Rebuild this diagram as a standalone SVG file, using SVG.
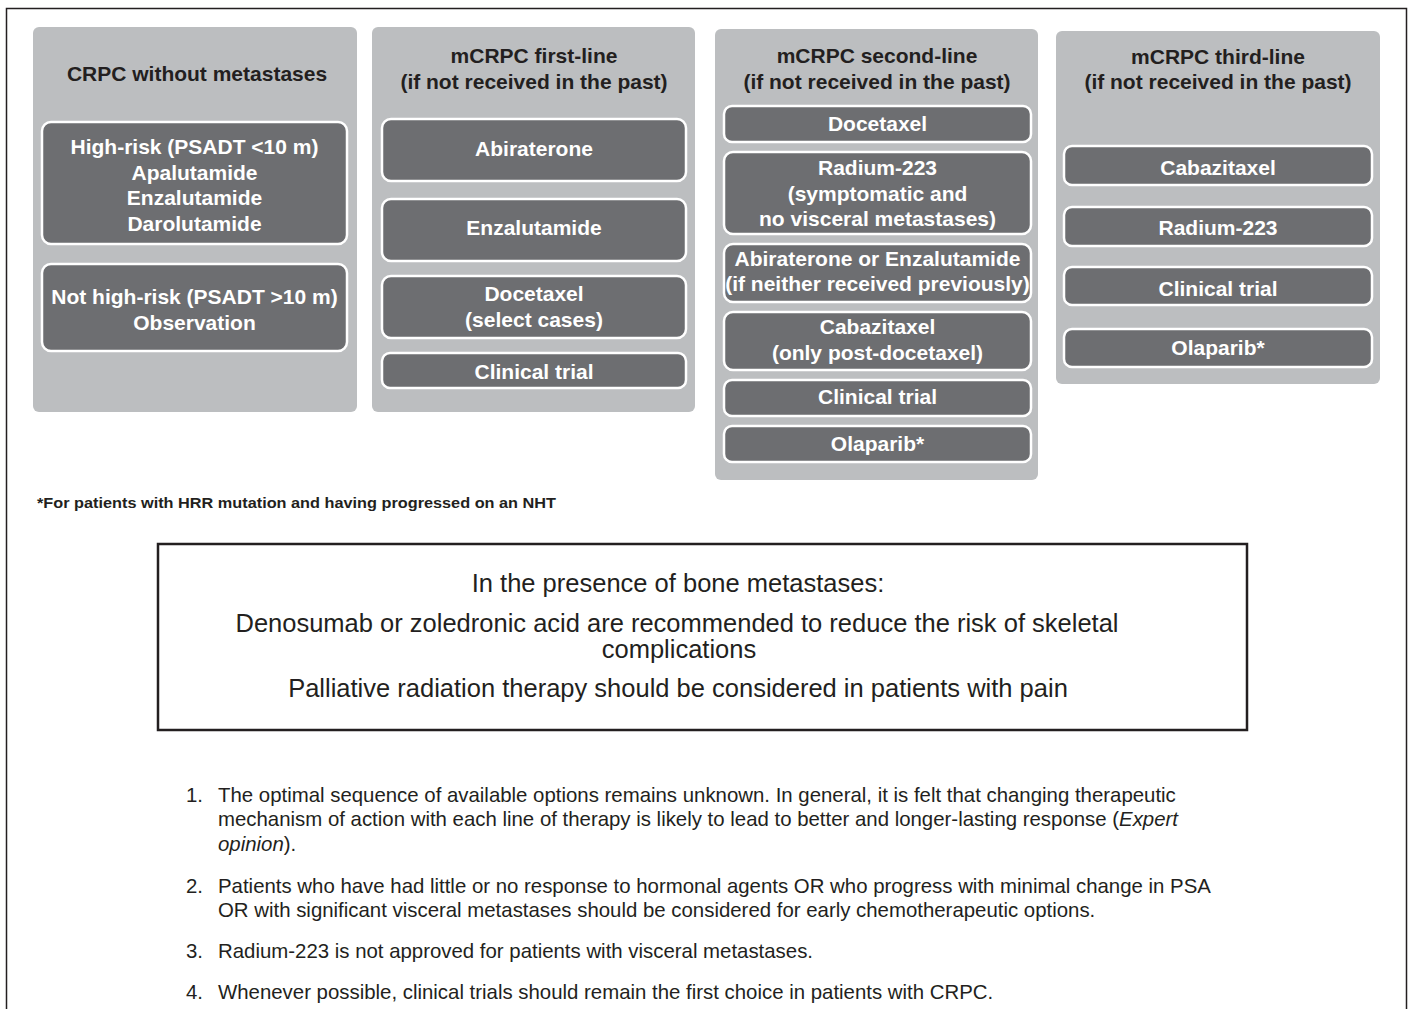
<svg xmlns="http://www.w3.org/2000/svg" width="1411" height="1009" viewBox="0 0 1411 1009">
<style>
.col{fill:#bcbec0}
.opt{fill:#6d6e71;stroke:#ffffff;stroke-width:2.5}
.ttl{font-family:"Liberation Sans",Arial,sans-serif;font-weight:bold;font-size:21px;fill:#231f20;text-anchor:middle}
.lbl{font-family:"Liberation Sans",Arial,sans-serif;font-weight:bold;font-size:21px;fill:#ffffff;text-anchor:middle}
.note{font-family:"Liberation Sans",Arial,sans-serif;font-weight:bold;font-size:15.5px;fill:#231f20}
.box{font-family:"Liberation Sans",Arial,sans-serif;font-size:25.5px;fill:#231f20;text-anchor:middle}
.lst{font-family:"Liberation Sans",Arial,sans-serif;font-size:20.4px;fill:#231f20}
</style>
<rect width="1411" height="1009" fill="#ffffff"/>
<path d="M6.5,1009 V8.5 H1406.5 V1009" fill="none" stroke="#231f20" stroke-width="1.5"/>

<g id="col-nonmeta">
<rect class="col" x="33" y="27" width="324" height="385" rx="6"/>
<text class="ttl" x="197" y="81">CRPC without metastases</text>
<g id="n-highrisk">
<rect class="opt" x="42" y="122" width="305" height="122" rx="9"/>
<text class="lbl" x="194.5" y="154">High-risk (PSADT &lt;10 m)</text>
<text class="lbl" x="194.5" y="179.5">Apalutamide</text>
<text class="lbl" x="194.5" y="205">Enzalutamide</text>
<text class="lbl" x="194.5" y="230.5">Darolutamide</text>
</g>
<g id="n-nothighrisk">
<rect class="opt" x="42" y="264" width="305" height="87" rx="9"/>
<text class="lbl" x="194.5" y="304">Not high-risk (PSADT &gt;10 m)</text>
<text class="lbl" x="194.5" y="329.5">Observation</text>
</g>
</g>

<g id="col-first">
<rect class="col" x="372" y="27" width="323" height="385" rx="6"/>
<text class="ttl" x="534" y="63">mCRPC first-line</text>
<text class="ttl" x="534" y="89">(if not received in the past)</text>
<g id="n1-abi"><rect class="opt" x="382" y="119" width="304" height="62" rx="9"/><text class="lbl" x="534" y="156">Abiraterone</text></g>
<g id="n1-enza"><rect class="opt" x="382" y="199" width="304" height="62" rx="9"/><text class="lbl" x="534" y="235">Enzalutamide</text></g>
<g id="n1-doce"><rect class="opt" x="382" y="276" width="304" height="62" rx="9"/><text class="lbl" x="534" y="301">Docetaxel</text><text class="lbl" x="534" y="326.5">(select cases)</text></g>
<g id="n1-trial"><rect class="opt" x="382" y="353" width="304" height="35" rx="8"/><text class="lbl" x="534" y="379">Clinical trial</text></g>
</g>

<g id="col-second">
<rect class="col" x="715" y="29" width="323" height="451" rx="6"/>
<text class="ttl" x="877" y="63">mCRPC second-line</text>
<text class="ttl" x="877" y="89">(if not received in the past)</text>
<g id="n2-doce"><rect class="opt" x="724" y="106" width="307" height="36" rx="8"/><text class="lbl" x="877.5" y="131">Docetaxel</text></g>
<g id="n2-rad"><rect class="opt" x="724" y="152" width="307" height="82" rx="9"/><text class="lbl" x="877.5" y="175">Radium-223</text><text class="lbl" x="877.5" y="200.5">(symptomatic and</text><text class="lbl" x="877.5" y="226">no visceral metastases)</text></g>
<g id="n2-abi"><rect class="opt" x="724" y="244" width="307" height="58" rx="9"/><text class="lbl" x="877.5" y="265.5">Abiraterone or Enzalutamide</text><text class="lbl" x="877.5" y="291">(if neither received previously)</text></g>
<g id="n2-caba"><rect class="opt" x="724" y="312" width="307" height="58" rx="9"/><text class="lbl" x="877.5" y="334">Cabazitaxel</text><text class="lbl" x="877.5" y="360">(only post-docetaxel)</text></g>
<g id="n2-trial"><rect class="opt" x="724" y="380" width="307" height="36" rx="8"/><text class="lbl" x="877.5" y="404">Clinical trial</text></g>
<g id="n2-ola"><rect class="opt" x="724" y="426" width="307" height="36" rx="8"/><text class="lbl" x="877.5" y="451">Olaparib*</text></g>
</g>

<g id="col-third">
<rect class="col" x="1056" y="31" width="324" height="353" rx="6"/>
<text class="ttl" x="1218" y="64">mCRPC third-line</text>
<text class="ttl" x="1218" y="89">(if not received in the past)</text>
<g id="n3-caba"><rect class="opt" x="1064" y="146" width="308" height="39" rx="8"/><text class="lbl" x="1218" y="175">Cabazitaxel</text></g>
<g id="n3-rad"><rect class="opt" x="1064" y="207" width="308" height="39" rx="8"/><text class="lbl" x="1218" y="235">Radium-223</text></g>
<g id="n3-trial"><rect class="opt" x="1064" y="267" width="308" height="38" rx="8"/><text class="lbl" x="1218" y="296">Clinical trial</text></g>
<g id="n3-ola"><rect class="opt" x="1064" y="329" width="308" height="38" rx="8"/><text class="lbl" x="1218" y="355">Olaparib*</text></g>
</g>

<g id="connectors"></g>

<text class="note" x="37" y="508" textLength="519" lengthAdjust="spacingAndGlyphs">*For patients with HRR mutation and having progressed on an NHT</text>

<g id="bone-box">
<rect x="158" y="544" width="1089" height="186" fill="none" stroke="#231f20" stroke-width="2.5"/>
<text class="box" x="678" y="592">In the presence of bone metastases:</text>
<text class="box" x="677" y="632">Denosumab or zoledronic acid are recommended to reduce the risk of skeletal</text>
<text class="box" x="679" y="658">complications</text>
<text class="box" x="678" y="697">Palliative radiation therapy should be considered in patients with pain</text>
</g>

<g id="notes" class="lst">
<text x="186" y="802">1.</text>
<text x="218" y="802">The optimal sequence of available options remains unknown. In general, it is felt that changing therapeutic</text>
<text x="218" y="826">mechanism of action with each line of therapy is likely to lead to better and longer-lasting response (<tspan font-style="italic">Expert</tspan></text>
<text x="218" y="851"><tspan font-style="italic">opinion</tspan>).</text>
<text x="186" y="893">2.</text>
<text x="218" y="893">Patients who have had little or no response to hormonal agents OR who progress with minimal change in PSA</text>
<text x="218" y="917">OR with significant visceral metastases should be considered for early chemotherapeutic options.</text>
<text x="186" y="958">3.</text>
<text x="218" y="958">Radium-223 is not approved for patients with visceral metastases.</text>
<text x="186" y="999">4.</text>
<text x="218" y="999">Whenever possible, clinical trials should remain the first choice in patients with CRPC.</text>
</g>
</svg>
